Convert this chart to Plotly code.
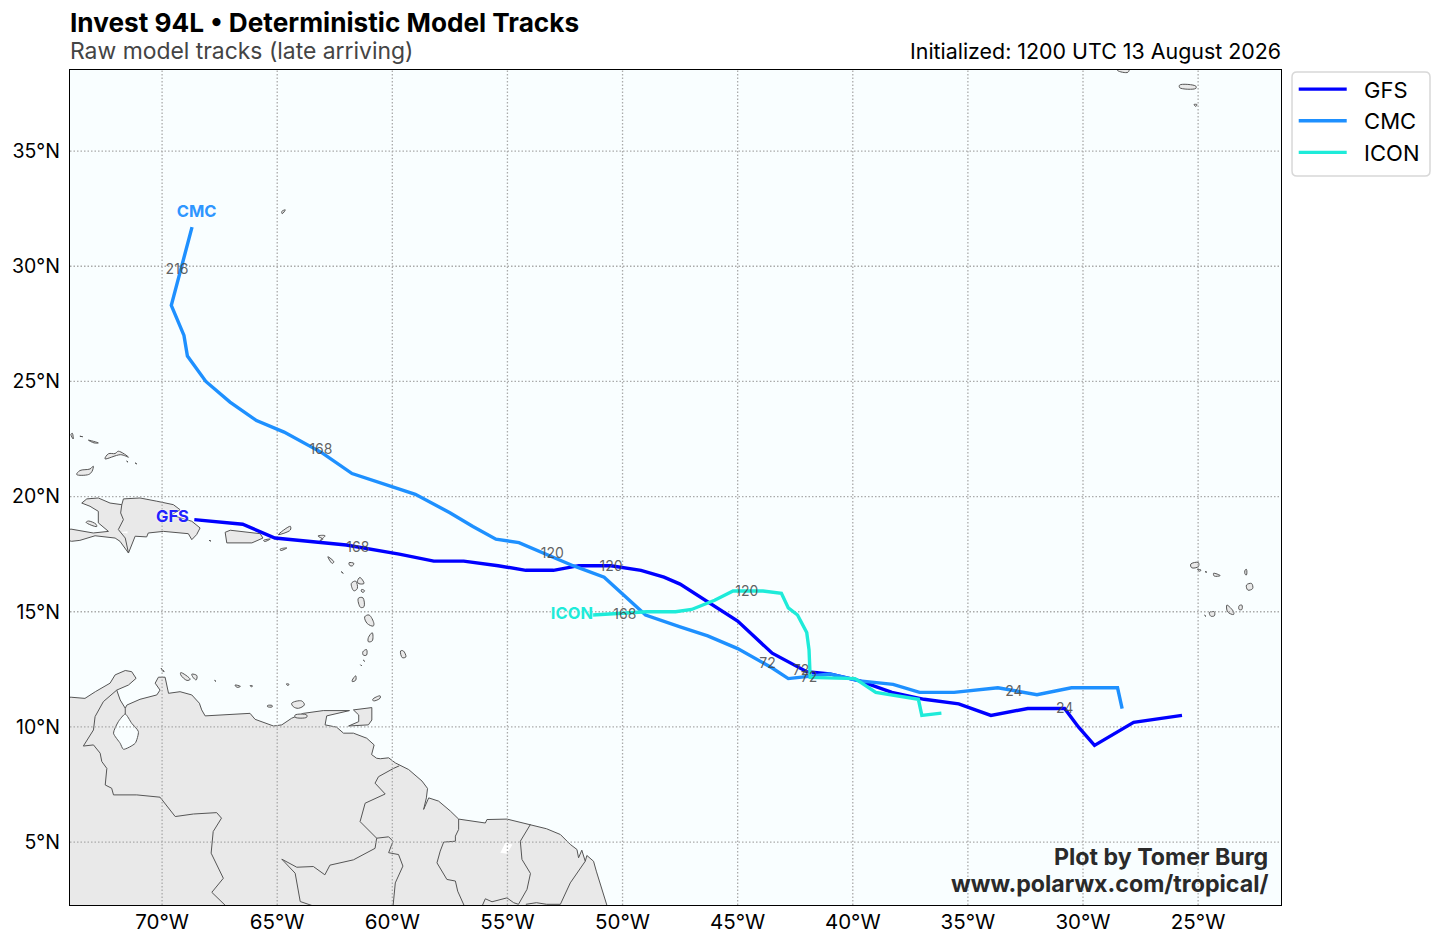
import plotly.graph_objects as go

FONT = "Inter"
OCEAN = "#F9FEFF"
LAND = "#E9E9E9"
COAST = "#555555"

LON_TICKS = [-70, -65, -60, -55, -50, -45, -40, -35, -30, -25]
LON_LABELS = ["70°W", "65°W", "60°W", "55°W", "50°W", "45°W", "40°W", "35°W", "30°W", "25°W"]
LAT_TICKS = [5, 10, 15, 20, 25, 30, 35]
LAT_LABELS = ["5°N", "10°N", "15°N", "20°N", "25°N", "30°N", "35°N"]
LON_RANGE = [-74, -21.4]
LAT_RANGE = [2.27, 38.52]

# tracks, in forecast order
gfs_lon = [-25.7, -27.8, -29.5, -30.2, -30.8, -32.4, -34.0, -35.4, -36.9, -38.3, -39.7, -41.0, -42.0, -43.5, -45.0,
           -46.4, -47.5, -48.2, -49.2, -50.5, -51.9, -53.0, -54.2, -55.4, -56.9, -58.2, -59.7, -62.0, -65.1, -66.5, -68.6]
gfs_lat = [10.5, 10.2, 9.2, 10.0, 10.8, 10.8, 10.5, 11.0, 11.2, 11.5, 12.0, 12.3, 12.4, 13.2, 14.6,
           15.5, 16.2, 16.5, 16.8, 17.0, 17.0, 16.8, 16.8, 17.0, 17.2, 17.2, 17.5, 17.9, 18.2, 18.8, 19.0]
cmc_lon = [-28.3, -28.5, -30.5, -32.0, -33.7, -35.6, -37.1, -38.25, -39.7, -41.0, -42.8, -43.5, -45.0, -46.3, -47.5,
           -49.0, -50.8, -52.15, -54.5, -55.5, -56.5, -57.5, -59.0, -60.5, -61.75, -63.05, -64.7, -65.9, -67.05, -68.1,
           -68.9, -69.05, -69.6, -68.7]
cmc_lat = [10.8, 11.7, 11.7, 11.4, 11.7, 11.5, 11.5, 11.85, 12.0, 12.3, 12.1, 12.56, 13.4, 13.95, 14.34,
           14.86, 16.5, 17.0, 18.0, 18.15, 18.7, 19.3, 20.1, 20.6, 21.0, 21.9, 22.8, 23.3, 24.1, 25.0,
           26.1, 27.0, 28.3, 31.7]
icon_lon = [-36.15, -37.0, -37.15, -38.15, -39.0, -39.9, -41.85, -41.9, -42.0, -42.4, -42.8, -43.1, -43.9, -45.2,
            -46.0, -47.0, -47.7, -48.95, -51.3]
icon_lat = [10.6, 10.5, 11.2, 11.35, 11.5, 12.1, 12.15, 13.35, 14.1, 14.86, 15.17, 15.8, 15.9, 15.9,
            15.5, 15.1, 15.0, 15.0, 14.86]

hour_text = ["24", "72", "120", "168", "24", "72", "120", "168", "216", "72", "120", "168"]
hour_lon = [-30.8, -42.25, -50.5, -61.5, -33.0, -43.7, -53.05, -63.1, -69.35, -41.9, -44.6, -49.9]
hour_lat = [10.75, 12.42, 16.92, 17.76, 11.5, 12.72, 17.47, 22.02, 29.8, 12.12, 15.82, 14.82]

model_text = ["GFS", "CMC", "ICON"]
model_lon = [-69.55, -68.5, -52.2]
model_lat = [19.08, 32.3, 14.88]
model_colors = ["#2222FF", "#2E96FF", "#1EEBD9"]

south_america = [(-75, 2), (-75, 11.29), (-73.95, 11.29), (-73.35, 11.24), (-72.9, 11.53), (-72.26, 11.9), (-72.04, 12.26),
                 (-71.6, 12.45), (-71.32, 12.4), (-71.13, 12.11), (-71.46, 11.82), (-71.97, 11.6), (-71.82, 11.17),
                 (-71.6, 10.81), (-71.53, 10.95), (-70.96, 11.2), (-70.23, 11.39), (-70.09, 11.6), (-70.3, 11.9),
                 (-70.16, 12.16), (-69.87, 12.16), (-69.8, 11.82), (-69.72, 11.46), (-69.22, 11.53), (-68.71, 11.39),
                 (-68.38, 11.03), (-68.28, 10.74), (-68.13, 10.48), (-67.34, 10.52), (-66.18, 10.59), (-65.96, 10.33),
                 (-65.16, 10.04), (-64.8, 10.09), (-64.37, 10.38), (-63.86, 10.59), (-63.0, 10.71), (-61.86, 10.71),
                 (-62.85, 10.48), (-62.92, 10.09), (-62.42, 9.99), (-62.12, 9.73), (-61.69, 9.73), (-61.11, 9.51),
                 (-60.79, 9.22), (-60.9, 8.8), (-60.68, 8.64), (-60.52, 8.62), (-60.16, 8.66), (-59.87, 8.44),
                 (-59.29, 8.15), (-58.71, 7.65), (-58.47, 7.33), (-58.52, 6.92), (-58.64, 6.42), (-58.42, 6.92),
                 (-57.99, 6.78), (-57.48, 6.35), (-57.12, 6.0), (-55.96, 5.83), (-55.89, 5.98), (-55.02, 6.0),
                 (-54.0, 5.77), (-53.3, 5.58), (-52.7, 5.33), (-52.27, 4.9), (-51.98, 4.68), (-51.91, 4.32),
                 (-51.77, 4.65), (-51.62, 4.17), (-51.55, 4.42), (-51.26, 4.17), (-51.14, 3.74), (-50.9, 2.95),
                 (-50.71, 2.32), (-50.6, 2)]
hispaniola = [(-74.5, 18.4), (-73.96, 18.59), (-72.99, 18.42), (-72.33, 18.49), (-72.77, 18.86), (-72.77, 19.36),
              (-73.13, 19.58), (-73.49, 19.72), (-73.27, 19.9), (-72.77, 19.94), (-72.26, 19.72), (-71.75, 19.65),
              (-71.68, 19.9), (-70.96, 19.94), (-70.23, 19.8), (-69.51, 19.65), (-69.22, 19.43), (-69.6, 19.2),
              (-68.71, 18.93), (-68.35, 18.64), (-68.5, 18.35), (-68.71, 18.13), (-68.86, 18.39), (-69.94, 18.49),
              (-70.6, 18.42), (-70.67, 18.25), (-71.17, 18.28), (-71.46, 17.55), (-71.83, 18.06), (-72.04, 18.2),
              (-72.91, 18.3), (-73.57, 18.1), (-73.93, 18.06), (-74.5, 18.2)]
trinidad = [(-61.69, 10.74), (-60.89, 10.84), (-60.89, 10.3), (-61.04, 10.09), (-61.9, 10.04), (-61.46, 10.23), (-61.46, 10.52)]
puerto_rico = [(-67.26, 18.45), (-67.04, 18.54), (-65.74, 18.39), (-65.62, 18.2), (-66.1, 17.99), (-67.19, 17.99)]
islands = [
    [(-60.85, 11.2), (-60.53, 11.35), (-60.53, 11.25), (-60.82, 11.13)],
    [(-64.37, 11.03), (-63.94, 11.13), (-63.82, 10.96), (-64.08, 10.81), (-64.3, 10.88)],
    [(-64.22, 10.52), (-63.72, 10.52), (-63.72, 10.42), (-64.22, 10.42)],
    [(-65.42, 10.93), (-65.22, 10.93), (-65.22, 10.87), (-65.42, 10.88)],
    [(-66.83, 11.82), (-66.6, 11.76), (-66.75, 11.72)],
    [(-66.18, 11.79), (-66.08, 11.79), (-66.1, 11.74)],
    [(-64.6, 11.87), (-64.48, 11.85), (-64.55, 11.8)],
    [(-70.04, 12.55), (-69.91, 12.4), (-70.0, 12.45)],
    [(-69.19, 12.36), (-68.78, 12.07), (-68.92, 12.02), (-69.19, 12.26)],
    [(-68.71, 12.29), (-68.49, 12.23), (-68.52, 12.04), (-68.66, 12.16)],
    [(-67.72, 12.02), (-67.66, 11.98)],
    [(-61.74, 12.03), (-61.59, 12.22), (-61.59, 12.03), (-61.74, 11.97)],
    [(-61.04, 13.88), (-60.87, 14.09), (-60.87, 13.74), (-61.04, 13.7)],
    [(-61.2, 14.78), (-61.01, 14.86), (-60.8, 14.49), (-60.83, 14.38), (-61.09, 14.49)],
    [(-61.48, 15.58), (-61.28, 15.61), (-61.23, 15.22), (-61.38, 15.19)],
    [(-61.78, 16.23), (-61.59, 16.33), (-61.52, 16.01), (-61.67, 15.91)],
    [(-61.52, 16.3), (-61.41, 16.49), (-61.23, 16.23), (-61.45, 16.22)],
    [(-61.33, 15.97), (-61.2, 15.91), (-61.28, 15.84), (-61.35, 15.9)],
    [(-61.88, 17.13), (-61.67, 17.1), (-61.74, 16.99), (-61.85, 17.01)],
    [(-62.8, 17.39), (-62.54, 17.17), (-62.61, 17.1)],
    [(-62.22, 16.74), (-62.13, 16.67)],
    [(-61.28, 13.26), (-61.12, 13.36), (-61.12, 13.12), (-61.26, 13.12)],
    [(-61.26, 12.9), (-61.2, 12.85)],
    [(-61.38, 12.7), (-61.33, 12.65)],
    [(-59.64, 13.3), (-59.52, 13.3), (-59.41, 13.04), (-59.57, 13.01)],
    [(-63.23, 18.29), (-63.02, 18.15), (-63.15, 18.08), (-62.92, 18.3)],
    [(-73.3, 18.88), (-72.84, 18.7), (-72.87, 18.8), (-73.2, 18.94)],
    [(-73.71, 20.96), (-73.57, 21.13), (-73.13, 21.2), (-72.99, 21.32), (-73.04, 21.1), (-73.19, 20.96)],
    [(-72.48, 21.64), (-72.33, 21.86), (-72.04, 21.87), (-71.9, 21.97), (-71.46, 21.71), (-71.8, 21.82)],
    [(-71.54, 21.54), (-71.48, 21.5)],
    [(-71.17, 21.46), (-71.1, 21.42)],
    [(-73.2, 22.45), (-72.77, 22.33), (-72.95, 22.33)],
    [(-73.57, 22.62), (-73.45, 22.6)],
    [(-73.96, 22.7), (-73.86, 22.5), (-73.9, 22.75)],
    [(-67.96, 18.1), (-67.88, 18.07)],
    [(-65.59, 18.1), (-65.3, 18.16), (-65.55, 18.05)],
    [(-64.87, 17.72), (-64.58, 17.77), (-64.85, 17.66)],
    [(-64.95, 18.35), (-64.43, 18.71), (-64.43, 18.55)],
    [(-64.8, 32.38), (-64.65, 32.45), (-64.78, 32.28)],
    [(-25.8, 37.87), (-25.1, 37.82), (-25.1, 37.72), (-25.8, 37.75)],
    [(-25.18, 37.02), (-25.05, 37.02), (-25.1, 36.94)],
    [(-28.5, 38.6), (-28.0, 38.58), (-28.05, 38.42), (-28.5, 38.5)],
    [(-25.32, 17.07), (-24.99, 17.14), (-24.99, 16.96), (-25.28, 16.91)],
    [(-25.03, 16.84), (-24.87, 16.81), (-24.95, 16.76)],
    [(-24.7, 16.74), (-24.62, 16.72)],
    [(-24.33, 16.67), (-24.04, 16.57), (-24.3, 16.55)],
    [(-22.96, 16.81), (-22.9, 16.84), (-22.9, 16.6), (-22.96, 16.63)],
    [(-22.9, 16.16), (-22.68, 16.23), (-22.63, 16.01), (-22.84, 15.94)],
    [(-23.22, 15.26), (-23.1, 15.29), (-23.1, 15.1), (-23.22, 15.1)],
    [(-23.75, 15.29), (-23.46, 15.0), (-23.46, 14.88), (-23.72, 15.0)],
    [(-24.51, 14.97), (-24.3, 15.0), (-24.29, 14.83), (-24.45, 14.81)],
    [(-24.72, 14.85), (-24.66, 14.8)],
]
lake_maracaibo = [(-71.6, 10.56), (-71.32, 10.16), (-71.03, 9.8), (-71.17, 9.29), (-71.68, 9.03), (-71.82, 9.29), (-72.11, 9.73), (-71.9, 10.23)]
brokopondo = [(-55.31, 4.54), (-55.09, 4.97), (-54.78, 4.9), (-55.02, 4.49)]
enriquillo = [(-71.83, 18.45), (-71.5, 18.5), (-71.5, 18.4)]
borders = [
    [(-71.97, 11.6), (-72.55, 11.1), (-72.91, 10.45), (-72.98, 9.87), (-73.42, 9.17), (-72.98, 9.22), (-72.69, 8.86),
     (-72.62, 8.5), (-72.4, 8.2), (-72.47, 7.48), (-72.19, 7.34), (-72.11, 7.05), (-71.1, 7.05), (-70.09, 6.95),
     (-69.43, 6.11), (-68.64, 6.22), (-67.63, 6.28), (-67.42, 6.04), (-67.78, 5.46), (-67.87, 4.52), (-67.34, 3.43),
     (-67.84, 2.82), (-67.2, 2.2)],
    [(-63.35, 2.2), (-64.0, 2.42), (-64.22, 3.65), (-64.8, 4.26), (-64.15, 3.91), (-63.43, 3.94), (-62.93, 3.58),
     (-62.71, 4.0), (-61.69, 4.23), (-60.75, 4.73), (-60.68, 5.17), (-60.16, 5.23), (-59.97, 5.04), (-60.16, 4.54),
     (-59.73, 4.46), (-59.54, 3.96), (-59.87, 3.23), (-59.97, 2.2)],
    [(-60.68, 5.17), (-61.4, 5.89), (-61.18, 6.69), (-60.31, 7.09), (-60.75, 7.56), (-60.6, 7.84), (-59.95, 8.2), (-59.7, 8.31)],
    [(-57.12, 6.0), (-57.12, 5.55), (-57.26, 5.26), (-57.26, 5.04), (-57.77, 5.0), (-57.92, 4.61), (-58.06, 4.1),
     (-57.63, 3.38), (-57.26, 3.31), (-57.16, 2.87), (-56.86, 2.2)],
    [(-54.0, 5.77), (-54.44, 5.04), (-54.37, 4.25), (-54.0, 3.64), (-54.15, 2.95), (-54.52, 2.3), (-54.73, 2.37),
     (-55.02, 2.58), (-55.67, 2.41), (-55.96, 2.54), (-56.11, 2.2)],
    [(-51.62, 4.17), (-52.27, 3.23), (-52.7, 2.3), (-53.3, 2.3), (-53.74, 2.37), (-54.2, 2.3)],
    [(-71.75, 19.65), (-71.8, 19.29), (-71.68, 19.0), (-71.9, 18.57), (-71.6, 18.2), (-71.46, 17.55)],
    [(-71.6, 10.81), (-71.6, 10.56)],
]


def flatten(polys, close=True):
    xs, ys = [], []
    for poly in polys:
        pts = poly + poly[:1] if close else poly
        xs += [p[0] for p in pts] + [None]
        ys += [p[1] for p in pts] + [None]
    return xs, ys


def map_layer(fig, polys, fillcolor=None, close=True, line=None):
    x, y = flatten(polys, close)
    fig.add_trace(go.Scatter(x=x, y=y, mode="lines", fill="toself" if fillcolor else None, fillcolor=fillcolor,
                             showlegend=False, hoverinfo="skip", line=line or dict(color=COAST, width=1)))


fig = go.Figure()

map_layer(fig, [south_america, hispaniola, trinidad, puerto_rico], LAND)
map_layer(fig, islands, LAND, line=dict(color=COAST, width=1, shape="spline", smoothing=1))
map_layer(fig, [lake_maracaibo], OCEAN, line=dict(color=COAST, width=1, shape="spline", smoothing=0.6))
map_layer(fig, [brokopondo, enriquillo], "white", line=dict(width=0))
map_layer(fig, borders, close=False)

# grid goes over the land but under the tracks
for lon in LON_TICKS:
    fig.add_trace(go.Scatter(x=[lon, lon], y=LAT_RANGE, mode="lines", showlegend=False, hoverinfo="skip",
                             line=dict(color="#AAAAAA", width=1.3, dash="1.5px,2px")))
for lat in LAT_TICKS:
    fig.add_trace(go.Scatter(x=LON_RANGE, y=[lat, lat], mode="lines", showlegend=False, hoverinfo="skip",
                             line=dict(color="#AAAAAA", width=1.3, dash="1.5px,2px")))

fig.add_trace(go.Scatter(x=gfs_lon, y=gfs_lat, mode="lines", name="\u00a0\u00a0GFS", legendgroup="GFS",
                         line=dict(color="#0000FF", width=3.4)))
fig.add_trace(go.Scatter(x=cmc_lon, y=cmc_lat, mode="lines", name="\u00a0\u00a0CMC", legendgroup="CMC",
                         line=dict(color="#1E90FF", width=3.4)))
fig.add_trace(go.Scatter(x=icon_lon, y=icon_lat, mode="lines", name="\u00a0\u00a0ICON", legendgroup="ICON",
                         line=dict(color="#1EEBD9", width=3.4)))

fig.add_trace(go.Scatter(x=hour_lon, y=hour_lat, mode="text", text=hour_text, showlegend=False, hoverinfo="skip",
                         textfont=dict(family=FONT, size=14, color="rgba(70,70,70,0.85)")))
fig.add_trace(go.Scatter(x=model_lon, y=model_lat, mode="text", text=model_text, showlegend=False, hoverinfo="skip",
                         textfont=dict(family=FONT, size=16.5, weight="bold", color=model_colors, shadow="0 0 3px white")))

fig.add_annotation(text="<b>Invest 94L • Deterministic Model Tracks</b>", xref="paper", yref="paper", x=0, y=1, xanchor="left",
                   yanchor="middle", xshift=-2, yshift=48, showarrow=False, font=dict(family=FONT, size=26.2, color="black"))
fig.add_annotation(text="Raw model tracks (late arriving)", xref="paper", yref="paper", x=0, y=1, xanchor="left",
                   yanchor="middle", xshift=-2, yshift=19, showarrow=False, font=dict(family=FONT, size=22.9, color="#444444"))
fig.add_annotation(text="Initialized: 1200 UTC 13 August 2026", xref="paper", yref="paper", x=1, y=1, xanchor="right",
                   yanchor="middle", xshift=2, yshift=19, showarrow=False, font=dict(family=FONT, size=21.4, color="black"))
fig.add_annotation(text="<b>Plot by Tomer Burg</b>", xref="paper", yref="paper", x=1, y=0, xanchor="right", yanchor="middle",
                   xshift=-11, yshift=48, showarrow=False, font=dict(family=FONT, size=23.2, color="#2A2A2A"))
fig.add_annotation(text="<b>www.polarwx.com/tropical/</b>", xref="paper", yref="paper", x=1, y=0, xanchor="right",
                   yanchor="middle", xshift=-11, yshift=21, showarrow=False, font=dict(family=FONT, size=23.2, color="#2A2A2A"))

# rounded frame behind the legend
fig.add_shape(type="path", xref="paper", yref="paper", layer="above", fillcolor="white",
              line=dict(color="#D8D8D8", width=1.5),
              path="M 1.01322,0.9976 L 1.11891,0.9976 Q 1.12304,0.9976 1.12304,0.99161 L 1.12304,0.87904 "
                   "Q 1.12304,0.87305 1.11891,0.87305 L 1.01322,0.87305 Q 1.00909,0.87305 1.00909,0.87904 "
                   "L 1.00909,0.99161 Q 1.00909,0.9976 1.01322,0.9976 Z")

fig.update_xaxes(range=LON_RANGE, tickvals=LON_TICKS, ticktext=LON_LABELS, showgrid=False, zeroline=False, showline=True,
                 mirror=True, linecolor="black", linewidth=1.4, ticks="", automargin=False, ticklabelstandoff=-2,
                 tickfont=dict(family=FONT, size=20.5, color="black"))
fig.update_yaxes(range=LAT_RANGE, tickvals=LAT_TICKS, ticktext=LAT_LABELS, showgrid=False, zeroline=False, showline=True,
                 mirror=True, linecolor="black", linewidth=1.4, ticks="", automargin=False, ticklabelstandoff=5,
                 tickfont=dict(family=FONT, size=19.5, color="black"))
fig.update_layout(width=1443, height=945, autosize=False, margin=dict(l=70, r=162, t=70, b=40), plot_bgcolor=OCEAN,
                  paper_bgcolor="white",
                  legend=dict(x=1.0105, y=1.002, xanchor="left", yanchor="top", borderwidth=0,
                              bgcolor="rgba(0,0,0,0)", itemwidth=48, tracegroupgap=0,
                              font=dict(family=FONT, size=22, color="black")))

fig.write_html("out.html", post_script="document.body.style.margin='0';", config=dict(displayModeBar=False))
